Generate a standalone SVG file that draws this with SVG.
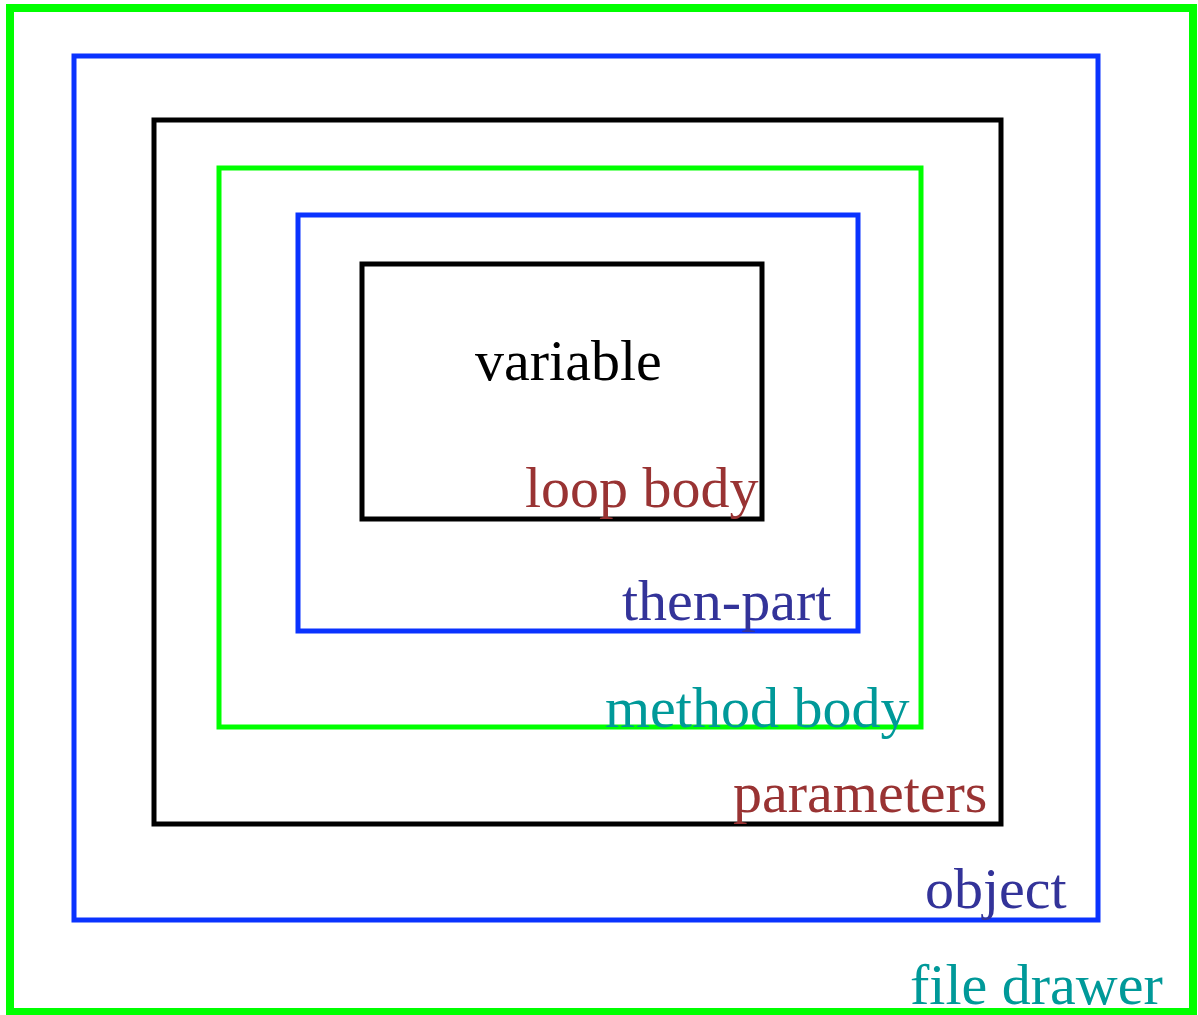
<svg xmlns="http://www.w3.org/2000/svg" width="1198" height="1015" viewBox="0 0 1198 1015">
<style>
rect{fill:none}
.g{stroke:#00ff00}
.b{stroke:#0a33ff}
.k{stroke:#000}
text{font-family:"Liberation Serif","Times New Roman",serif;font-size:58px}
.red{fill:#993333}
.nav{fill:#333399}
.teal{fill:#009999}
</style>
<rect width="1198" height="1015" fill="#fff" style="fill:#fff"/>
<g id="file-drawer"><rect class="g" x="10" y="8" width="1183" height="1004" stroke-width="8"/><text class="teal" x="910" y="1004">file drawer</text></g>
<g id="object"><rect class="b" x="74" y="56" width="1024" height="864" stroke-width="5"/><text class="nav" x="925" y="908">object</text></g>
<g id="parameters"><rect class="k" x="154" y="120" width="847" height="704" stroke-width="5"/><text class="red" x="733" y="812">parameters</text></g>
<g id="method-body"><rect class="g" x="219" y="168" width="702" height="559" stroke-width="5"/><text class="teal" x="605" y="727">method body</text></g>
<g id="then-part"><rect class="b" x="298" y="215" width="560" height="416" stroke-width="5"/><text class="nav" x="622" y="620">then-part</text></g>
<g id="loop-body"><rect class="k" x="362" y="264" width="400" height="255" stroke-width="5"/><text class="red" x="525" y="507">loop body</text></g>
<g id="variable"><text x="475" y="380">variable</text></g>
<g id="connectors"/>
</svg>
